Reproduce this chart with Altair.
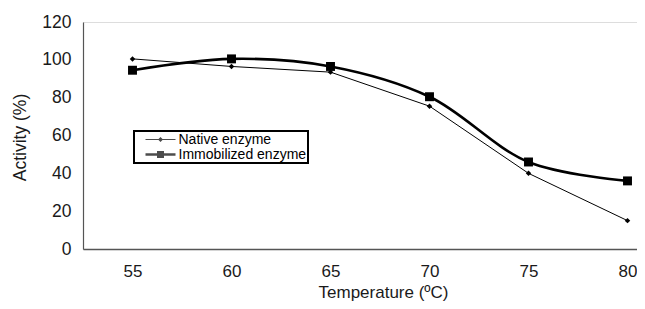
import altair as alt
import pandas as pd

temps = [55, 60, 65, 70, 75, 80]
native = [100.5, 96.5, 93.5, 75.5, 40.0, 15.0]
immobilized = [94.5, 100.5, 96.5, 80.5, 46.0, 36.0]
series = ["Native enzyme", "Immobilized enzyme"]

rows = []
for t, v in zip(temps, native):
    rows.append({"Temperature": t, "Activity": v, "Series": series[0]})
for t, v in zip(temps, immobilized):
    rows.append({"Temperature": t, "Activity": v, "Series": series[1]})
df = pd.DataFrame(rows)

FONT = "Liberation Sans"
PLOT_W = 554

x = alt.X("Temperature:Q",
          scale=alt.Scale(domain=[52.5, 52.5 + PLOT_W / 19.8], nice=False, zero=False),
          axis=alt.Axis(values=temps, title="Temperature (ºC)", grid=False, ticks=False,
                        labelPadding=14, labelFontSize=17, labelFont=FONT, labelColor="#1a1a1a",
                        titleFontSize=17, titleFont=FONT, titleFontWeight="normal", titleColor="#1a1a1a",
                        titleX=300, titleY=48, titleBaseline="alphabetic", titleAlign="center",
                        domainColor="#555555", domainWidth=1.5, format="d"))
y = alt.Y("Activity:Q",
          scale=alt.Scale(domain=[0, 120], nice=False),
          axis=alt.Axis(values=[0, 20, 40, 60, 80, 100, 120], title="Activity (%)", grid=False,
                        ticks=False, labelPadding=12, labelFontSize=17.5, labelFont=FONT,
                        labelColor="#1a1a1a", titleFontSize=17.5, titleFont=FONT,
                        titleFontWeight="normal", titleColor="#1a1a1a",
                        titleX=-58, titleY=115, titleBaseline="alphabetic", titleAlign="center",
                        titleAngle=270, domainColor="#555555", domainWidth=1.2))

base = alt.Chart(df)

line_native = base.transform_filter(alt.datum.Series == series[0]).mark_line(
    color="black", strokeWidth=1, interpolate="linear").encode(x=x, y=y)
line_imm = base.transform_filter(alt.datum.Series == series[1]).mark_line(
    color="black", strokeWidth=2.6, interpolate="catmull-rom").encode(x=x, y=y)

points = base.mark_point(filled=True, color="black", opacity=1).encode(
    x=x, y=y,
    shape=alt.Shape("Series:N", scale=alt.Scale(domain=series, range=["diamond", "square"]), legend=None),
    size=alt.Size("Series:N", scale=alt.Scale(domain=series, range=[30, 80]), legend=None),
)

# legend symbols: a filled bar (the line) plus the marker, in unit coordinates
native_sym = "M-3,-0.1H3V0.1H-3ZM0,-0.5L0.5,0L0,0.5L-0.5,0Z"
imm_sym = "M-3,-0.26H3V0.26H-3ZM-0.7,-0.7H0.7V0.7H-0.7Z"

legend = alt.Legend(orient="none", legendX=51, legendY=109, title=None,
                    strokeColor="black", padding=1.5, rowPadding=1,
                    labelFont=FONT, labelFontSize=14, labelColor="black", labelOffset=11,
                    symbolSize=100, symbolFillColor="black", symbolStrokeColor="black",
                    symbolStrokeWidth=0, symbolOffset=18, fillColor="white")

legend_layer = base.transform_filter("false").mark_point(filled=True, color="black").encode(
    x=x, y=y,
    shape=alt.Shape("Series:N", scale=alt.Scale(domain=series, range=[native_sym, imm_sym]),
                    legend=legend, sort=series),
)

chart = alt.layer(line_native, line_imm, points, legend_layer).resolve_scale(
    shape="independent", size="independent"
).properties(
    width=PLOT_W, height=227,
    autosize=alt.AutoSizeParams(type="none"),
    padding={"left": 75, "top": 14, "right": 0, "bottom": 52},
).configure_view(stroke=None).configure(background="white").configure_legend(strokeWidth=2)

chart.save("out.html", embed_options={"renderer": "svg", "actions": False})
